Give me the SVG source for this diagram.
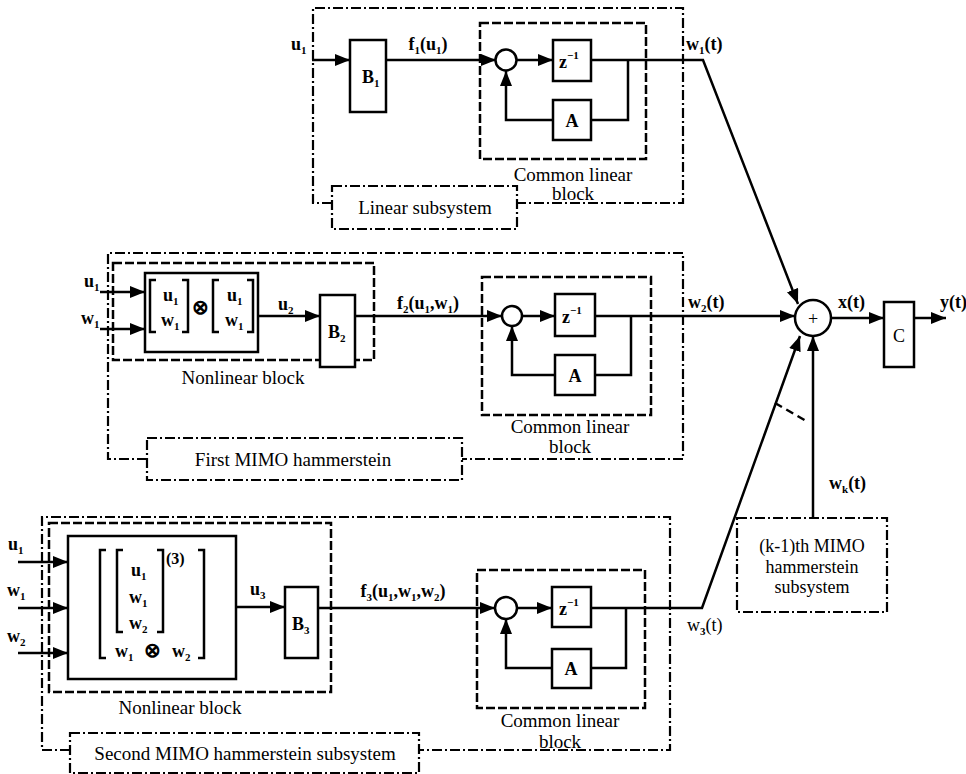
<svg xmlns="http://www.w3.org/2000/svg" width="966" height="774" viewBox="0 0 966 774">
<style>
text{font-family:"Liberation Serif","Times New Roman",serif;fill:#000}
.lbl{font-size:19px}
.m{font-size:18px;font-weight:bold}
.s{font-size:11px;font-weight:bold}
.box{fill:#fff;stroke:#000;stroke-width:2.5}
.dd{fill:none;stroke:#000;stroke-width:2.2;stroke-dasharray:10 3 2 3}
.ddw{fill:#fff;stroke:#000;stroke-width:2.2;stroke-dasharray:10 3 2 3}
.dsh{fill:none;stroke:#000;stroke-width:2.5;stroke-dasharray:9 3}
.ln{fill:none;stroke:#000;stroke-width:2.5}
.arr{fill:none;stroke:#000;stroke-width:2.5;marker-end:url(#ah)}
.br{fill:none;stroke:#000;stroke-width:2.5}
</style>
<defs>
<marker id="ah" markerUnits="userSpaceOnUse" markerWidth="15" markerHeight="12" refX="15" refY="6" orient="auto">
<path d="M0,0 L15,6 L0,12 z" fill="#000"/>
</marker>
</defs>
<rect width="966" height="774" fill="#fff"/>

<!-- ===== TOP: Linear subsystem ===== -->
<g id="linear-subsystem">
<path class="dd" d="M332,203 L313,203 L313,8 L683,8 L683,203 L517,203"/>
<rect class="ddw" x="332" y="186" width="185" height="43"/>
<text class="lbl" x="425" y="214" text-anchor="middle">Linear subsystem</text>
</g>
<g id="common-linear-1">
<rect class="dsh" x="480" y="23" width="166" height="136"/>
<text class="lbl" x="573" y="181" text-anchor="middle">Common linear</text>
<text class="lbl" x="573" y="200" text-anchor="middle">block</text>
</g>
<g id="B1"><rect class="box" x="350" y="40" width="36" height="72"/><text class="m" x="362" y="83">B<tspan class="s" dy="4">1</tspan></text></g>
<g id="sum1"><circle class="box" cx="506" cy="60" r="10.5"/></g>
<g id="z1"><rect class="box" x="553" y="40" width="38" height="41"/><text class="m" x="559" y="68">z<tspan class="s" dy="-9">−1</tspan></text></g>
<g id="A1"><rect class="box" x="553" y="100" width="38" height="40"/><text class="m" x="572" y="127" text-anchor="middle">A</text></g>

<!-- ===== MIDDLE: First MIMO hammerstein ===== -->
<g id="first-mimo">
<path class="dd" d="M147,459 L108,459 L108,253 L683,253 L683,459 L462,459"/>
<rect class="ddw" x="147" y="438" width="315" height="42"/>
<text class="lbl" x="293" y="466" text-anchor="middle">First MIMO hammerstein</text>
</g>
<g id="nonlinear-1">
<rect class="dsh" x="113" y="263" width="261" height="97"/>
<text class="lbl" x="243" y="384" text-anchor="middle">Nonlinear block</text>
</g>
<g id="kron-1">
<rect class="box" x="145" y="273" width="113" height="79"/>
<path class="br" d="M156,280 L150,280 L150,332 L156,332 M182,280 L188,280 L188,332 L182,332 M219,280 L213,280 L213,332 L219,332 M247,280 L253,280 L253,332 L247,332"/>
<text class="m" x="163" y="301">u<tspan class="s" dy="4">1</tspan></text>
<text class="m" x="161" y="326">w<tspan class="s" dy="4">1</tspan></text>
<text class="m" x="200" y="314" text-anchor="middle" style="font-size:20px">⊗</text>
<text class="m" x="227" y="301">u<tspan class="s" dy="4">1</tspan></text>
<text class="m" x="225" y="326">w<tspan class="s" dy="4">1</tspan></text>
</g>
<g id="B2"><rect class="box" x="320" y="295" width="35" height="72"/><text class="m" x="328" y="338">B<tspan class="s" dy="4">2</tspan></text></g>
<g id="common-linear-2">
<rect class="dsh" x="482" y="277" width="169" height="138"/>
<text class="lbl" x="570" y="433" text-anchor="middle">Common linear</text>
<text class="lbl" x="570" y="453" text-anchor="middle">block</text>
</g>
<g id="sum2"><circle class="box" cx="512" cy="316" r="10"/></g>
<g id="z2"><rect class="box" x="555" y="294" width="40" height="42"/><text class="m" x="562" y="323">z<tspan class="s" dy="-9">−1</tspan></text></g>
<g id="A2"><rect class="box" x="555" y="355" width="40" height="40"/><text class="m" x="575" y="382" text-anchor="middle">A</text></g>

<!-- ===== BOTTOM: Second MIMO hammerstein subsystem ===== -->
<g id="second-mimo">
<path class="dd" d="M70,750 L42,750 L42,517 L670,517 L670,750 L419,750"/>
<rect class="ddw" x="70" y="733" width="349" height="40"/>
<text class="lbl" x="245" y="760" text-anchor="middle">Second MIMO hammerstein subsystem</text>
</g>
<g id="nonlinear-2">
<rect class="dsh" x="49" y="523" width="282" height="169"/>
<text class="lbl" x="180" y="714" text-anchor="middle">Nonlinear block</text>
</g>
<g id="kron-2">
<rect class="box" x="68" y="536" width="168" height="143"/>
<path class="br" d="M106,550 L100,550 L100,658 L106,658 M198,550 L204,550 L204,658 L198,658 M123,550 L117,550 L117,632 L123,632 M157,550 L163,550 L163,632 L157,632"/>
<text class="m" x="166" y="564" style="font-size:16px">(3)</text>
<text class="m" x="131" y="576">u<tspan class="s" dy="4">1</tspan></text>
<text class="m" x="129" y="603">w<tspan class="s" dy="4">1</tspan></text>
<text class="m" x="129" y="629">w<tspan class="s" dy="4">2</tspan></text>
<text class="m" x="115" y="657">w<tspan class="s" dy="4">1</tspan></text>
<text class="m" x="152" y="657" text-anchor="middle" style="font-size:20px">⊗</text>
<text class="m" x="172" y="657">w<tspan class="s" dy="4">2</tspan></text>
</g>
<g id="B3"><rect class="box" x="285" y="587" width="33" height="71"/><text class="m" x="292" y="630">B<tspan class="s" dy="4">3</tspan></text></g>
<g id="common-linear-3">
<rect class="dsh" x="477" y="570" width="168" height="138"/>
<text class="lbl" x="560" y="727" text-anchor="middle">Common linear</text>
<text class="lbl" x="560" y="748" text-anchor="middle">block</text>
</g>
<g id="sum3"><circle class="box" cx="506" cy="608" r="11"/></g>
<g id="z3"><rect class="box" x="552" y="587" width="39" height="40"/><text class="m" x="559" y="615">z<tspan class="s" dy="-9">−1</tspan></text></g>
<g id="A3"><rect class="box" x="552" y="649" width="39" height="39"/><text class="m" x="571" y="675" text-anchor="middle">A</text></g>

<!-- ===== RIGHT ===== -->
<g id="sum-main"><circle class="box" cx="813" cy="318" r="18"/><text class="lbl" x="813" y="325" text-anchor="middle" style="font-size:18px">+</text></g>
<g id="C"><rect class="box" x="884" y="302" width="30" height="65"/><text class="m" x="899" y="342" text-anchor="middle" style="font-weight:normal">C</text></g>
<g id="kth-mimo">
<rect class="ddw" x="737" y="518" width="150" height="94"/>
<text class="lbl" x="812" y="552" text-anchor="middle" style="font-size:18px">(k-1)th MIMO</text>
<text class="lbl" x="812" y="573" text-anchor="middle" style="font-size:18px">hammerstein</text>
<text class="lbl" x="812" y="593" text-anchor="middle" style="font-size:18px">subsystem</text>
</g>

<!-- ===== CONNECTORS ===== -->
<g id="connectors">
<!-- top -->
<path class="arr" d="M312,60 L350,60"/>
<path class="arr" d="M386,60 L496,60"/>
<path class="arr" d="M517,60 L553,60"/>
<path class="arr" d="M591,60 L703,60 L798,304"/>
<path class="ln" d="M628,60 L628,120 L591,120"/>
<path class="arr" d="M553,120 L506,120 L506,71"/>
<!-- middle -->
<path class="arr" d="M100,292 L145,292"/>
<path class="arr" d="M100,329 L145,329"/>
<path class="arr" d="M258,316 L320,316"/>
<path class="arr" d="M355,316 L502,316"/>
<path class="arr" d="M522,316 L555,316"/>
<path class="arr" d="M595,316 L795,316"/>
<path class="ln" d="M631,316 L631,375 L595,375"/>
<path class="arr" d="M555,375 L512,375 L512,326"/>
<!-- bottom -->
<path class="arr" d="M18,562 L68,562"/>
<path class="arr" d="M18,608 L68,608"/>
<path class="arr" d="M18,653 L68,653"/>
<path class="arr" d="M236,607 L285,607"/>
<path class="arr" d="M318,608 L495,608"/>
<path class="arr" d="M517,608 L552,608"/>
<path class="arr" d="M591,608 L702,608 L800,336"/>
<path class="ln" d="M626,608 L626,668 L591,668"/>
<path class="arr" d="M552,668 L506,668 L506,619"/>
<!-- right -->
<path class="arr" d="M813,518 L813,336"/>
<path class="ln" d="M775,403 L808,422" style="stroke-dasharray:8 5"/>
<path class="arr" d="M831,318 L884,318"/>
<path class="arr" d="M914,318 L946,318"/>
</g>

<!-- ===== SIGNAL LABELS ===== -->
<g id="labels">
<text class="m" x="291" y="50">u<tspan class="s" dy="4">1</tspan></text>
<text class="m" x="428" y="50" text-anchor="middle">f<tspan class="s" dy="4">1</tspan><tspan dy="-4">(u</tspan><tspan class="s" dy="4">1</tspan><tspan dy="-4">)</tspan></text>
<text class="m" x="686" y="50">w<tspan class="s" dy="4">1</tspan><tspan dy="-4">(t)</tspan></text>
<text class="m" x="84" y="287">u<tspan class="s" dy="4">1</tspan></text>
<text class="m" x="81" y="324">w<tspan class="s" dy="4">1</tspan></text>
<text class="m" x="278" y="310">u<tspan class="s" dy="4">2</tspan></text>
<text class="m" x="428" y="309" text-anchor="middle">f<tspan class="s" dy="4">2</tspan><tspan dy="-4">(u</tspan><tspan class="s" dy="4">1</tspan><tspan dy="-4">,w</tspan><tspan class="s" dy="4">1</tspan><tspan dy="-4">)</tspan></text>
<text class="m" x="688" y="308">w<tspan class="s" dy="4">2</tspan><tspan dy="-4">(t)</tspan></text>
<text class="m" x="838" y="308">x(t)</text>
<text class="m" x="940" y="308">y(t)</text>
<text class="m" x="829" y="489">w<tspan class="s" dy="4">k</tspan><tspan dy="-4">(t)</tspan></text>
<text class="m" x="8" y="550">u<tspan class="s" dy="4">1</tspan></text>
<text class="m" x="7" y="596">w<tspan class="s" dy="4">1</tspan></text>
<text class="m" x="7" y="642">w<tspan class="s" dy="4">2</tspan></text>
<text class="m" x="250" y="595">u<tspan class="s" dy="4">3</tspan></text>
<text class="m" x="403" y="597" text-anchor="middle">f<tspan class="s" dy="4">3</tspan><tspan dy="-4">(u</tspan><tspan class="s" dy="4">1</tspan><tspan dy="-4">,w</tspan><tspan class="s" dy="4">1</tspan><tspan dy="-4">,w</tspan><tspan class="s" dy="4">2</tspan><tspan dy="-4">)</tspan></text>
<text class="m" x="687" y="631" style="font-weight:normal">w<tspan class="s" dy="4">3</tspan><tspan dy="-4">(t)</tspan></text>
</g>
</svg>
